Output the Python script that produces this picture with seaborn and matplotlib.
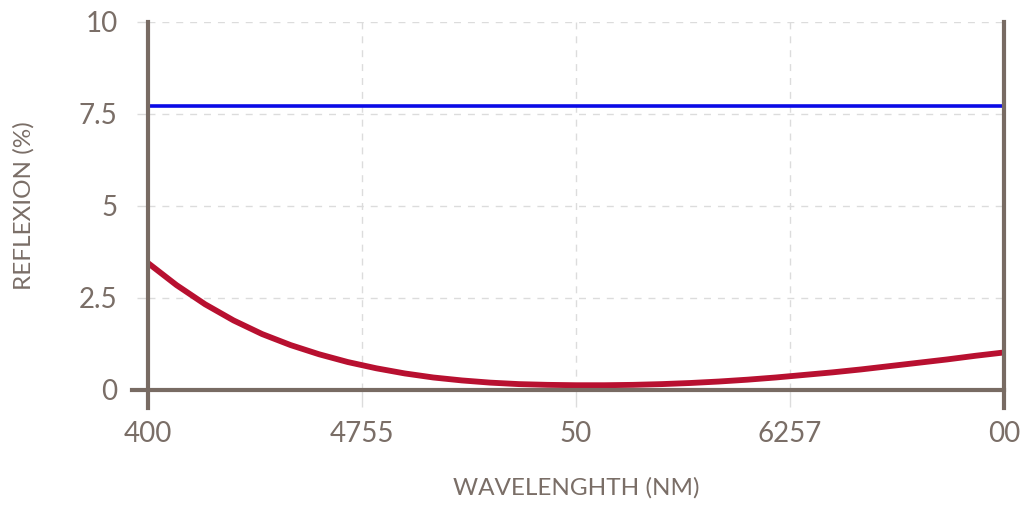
import matplotlib
matplotlib.use("Agg")
import matplotlib.pyplot as plt
import seaborn as sns
import pandas as pd

# ---- data ----
wavelength = [400, 410, 420, 430, 440, 450, 460, 470, 480, 490, 500, 510, 520, 530, 540, 550,
              560, 570, 580, 590, 600, 610, 620, 630, 640, 650, 660, 670, 680, 690, 700]
reflexion_red = [3.45, 2.85, 2.33, 1.89, 1.52, 1.22, 0.97, 0.76, 0.59, 0.45, 0.34, 0.26, 0.20, 0.16, 0.14, 0.13,
                 0.13, 0.14, 0.16, 0.19, 0.23, 0.28, 0.34, 0.41, 0.48, 0.56, 0.65, 0.74, 0.83, 0.93, 1.02]
reflexion_blue = [7.72, 7.72]
blue_x = [400, 700]
x_ticks = [400, 475, 550, 625, 700]
x_tick_labels = ["400", "4755", "50", "6257", "00"]
y_ticks = [0, 2.5, 5, 7.5, 10]
y_tick_labels = ["0", "2.5", "5", "7.5", "10"]
x_label = "WAVELENGHTH (NM)"
y_label = "REFLEXION (%)"

TXT = "#7a6e67"
AX = "#786b63"
GRID = "#dcdcdc"

sns.set_theme(style="white")
plt.rcParams["font.family"] = ["Lato", "DejaVu Sans"]

fig = plt.figure(figsize=(10.32, 5.08), dpi=100)
ax = fig.add_axes([148 / 1032, 1 - 390 / 508, (1004 - 148) / 1032, (390 - 22) / 508])

df_red = pd.DataFrame({"wl": wavelength, "r": reflexion_red})
df_blue = pd.DataFrame({"wl": blue_x, "r": reflexion_blue})
sns.lineplot(data=df_blue, x="wl", y="r", ax=ax, color="#0a0ae6", linewidth=2.6, zorder=3)
sns.lineplot(data=df_red, x="wl", y="r", ax=ax, color="#b81030", linewidth=4.2, zorder=3)
for ln in ax.get_lines():
    ln.set_solid_joinstyle("round")
    ln.set_solid_capstyle("butt")

ax.set_xlim(400, 700)
ax.set_ylim(0, 10)
ax.set_xticks(x_ticks)
ax.set_xticklabels(x_tick_labels)
ax.set_yticks(y_ticks)
ax.set_yticklabels(y_tick_labels)

ax.grid(True, color=GRID, linestyle=(0, (5, 5)), linewidth=1)
ax.set_axisbelow(True)

for s in ["left", "bottom", "right"]:
    ax.spines[s].set_visible(True)
    ax.spines[s].set_color(AX)
    ax.spines[s].set_linewidth(3)
    ax.spines[s].set_zorder(4)
ax.spines["top"].set_visible(False)
ax.spines["left"].set_bounds(-0.49, 10)
ax.spines["right"].set_bounds(-0.49, 10)
ax.spines["bottom"].set_bounds(400 - 16 / 856 * 300, 700)

ax.tick_params(axis="x", length=12, width=1, color=GRID, pad=10, labelsize=20, labelcolor=TXT, bottom=True)
ax.tick_params(axis="y", length=8, width=1, color=GRID, pad=14, labelsize=20, labelcolor=TXT, left=True)

ax.set_xlabel(x_label, fontsize=17.5, color=TXT, labelpad=22)
ax.set_ylabel(y_label, fontsize=17.5, color=TXT, labelpad=32)

fig.savefig("out.png", dpi=100)
